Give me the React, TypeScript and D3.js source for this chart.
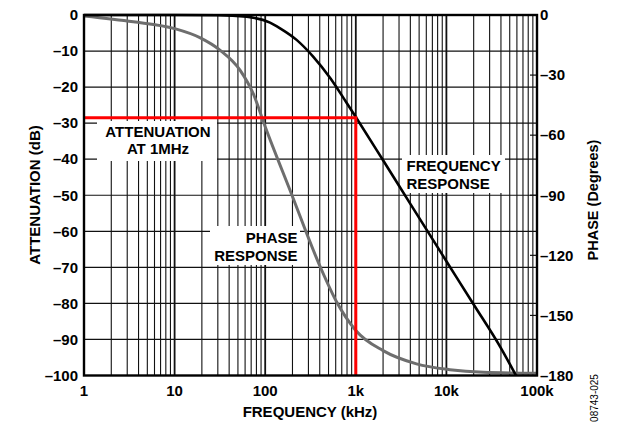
import { useEffect, useRef } from "react"
import * as d3 from "d3"

// frequency axis (kHz)
const freqTicks = [1, 10, 100, 1000, 10000, 100000]
const freqLabels = ["1", "10", "100", "1k", "10k", "100k"]
// left axis (dB) and right axis (degrees)
const attenTicks = [0, -10, -20, -30, -40, -50, -60, -70, -80, -90, -100]
const phaseTicks = [0, -30, -60, -90, -120, -150, -180]

// frequency response
const responseFreq = [1, 10, 30, 62.5, 113, 146, 222, 340, 519, 794, 1000, 2000, 4000, 10000, 20000, 40000, 58600]
const responseAtten = [0, 0, -0.05, -0.5, -2.1, -3.7, -6.9, -11.6, -17.4, -24.4, -28.3, -40.3, -52.4, -68.3, -80.3, -92.4, -100]

// phase response
const phaseFreq = [1, 3.5, 10, 19, 31.6, 52.7, 73.7, 100, 188, 403, 615, 1000, 2000, 4670, 10900, 25500, 100000]
const phaseDeg = [-0.5, -3.4, -6.8, -11.3, -17.5, -27.5, -39.2, -55.8, -87.5, -125.5, -143.3, -157.5, -167.6, -174.2, -177.1, -178.4, -178.9]

// attenuation marker at 1MHz
const markerFreq = 1000
const markerAtten = -28.5

const FONT = "'Liberation Sans', Arial, Helvetica, sans-serif"

const fmt = (d: number) => (d < 0 ? "\u2013" + Math.abs(d) : String(d))

export default function App() {
  const svgRef = useRef<SVGSVGElement>(null)

  useEffect(() => {
    if (!svgRef.current) return

    const svg = d3.select(svgRef.current)
    svg.selectAll("*").remove()

    const width = 626
    const height = 429
    const left = 84
    const right = 537
    const top = 15
    const bottom = 375.5

    const x = d3.scaleLog().domain([1, 100000]).range([left, right])
    const y = d3.scaleLinear().domain([-100, 0]).range([bottom, top])
    const yp = d3.scaleLinear().domain([-180, 0]).range([bottom, top])

    svg.attr("width", width).attr("height", height).attr("viewBox", [0, 0, width, height])
    svg.append("rect").attr("width", width).attr("height", height).attr("fill", "#fff")

    // grid: vertical log lines
    const vLines: { f: number; decade: boolean }[] = []
    for (let i = 0; i < freqTicks.length - 1; i++) {
      for (let m = 1; m <= 9; m++) vLines.push({ f: freqTicks[i] * m, decade: m === 1 })
    }
    const grid = svg.append("g")
    grid
      .selectAll(".v")
      .data(vLines.filter((d) => d.f > 1))
      .enter()
      .append("line")
      .attr("x1", (d) => x(d.f))
      .attr("x2", (d) => x(d.f))
      .attr("y1", top)
      .attr("y2", bottom)
      .attr("stroke", "#111")
      .attr("stroke-width", (d) => (d.decade ? 1.8 : 1.1))

    grid
      .selectAll(".h")
      .data(attenTicks)
      .enter()
      .append("line")
      .attr("x1", left)
      .attr("x2", right)
      .attr("y1", (d) => y(d))
      .attr("y2", (d) => y(d))
      .attr("stroke", "#111")
      .attr("stroke-width", 1.2)

    // phase ticks on the right edge
    grid
      .selectAll(".pt")
      .data(phaseTicks)
      .enter()
      .append("line")
      .attr("x1", right - 7)
      .attr("x2", right)
      .attr("y1", (d) => yp(d))
      .attr("y2", (d) => yp(d))
      .attr("stroke", "#111")
      .attr("stroke-width", 1.2)

    // white label boxes over the grid
    const boxes = [
      { x: 97, y: 121, w: 120, h: 40 },
      { x: 210, y: 226, w: 90, h: 39 },
      { x: 402, y: 155, w: 103, h: 38 },
    ]
    svg
      .append("g")
      .selectAll("rect")
      .data(boxes)
      .enter()
      .append("rect")
      .attr("x", (d) => d.x)
      .attr("y", (d) => d.y)
      .attr("width", (d) => d.w)
      .attr("height", (d) => d.h)
      .attr("fill", "#fff")

    const txt = svg.append("g").attr("font-family", FONT).attr("font-weight", "bold").attr("font-size", "15px").attr("fill", "#000")

    txt.append("text").attr("x", 158).attr("y", 137).attr("text-anchor", "middle").text("ATTENUATION")
    txt.append("text").attr("x", 158).attr("y", 153.5).attr("text-anchor", "middle").text("AT 1MHz")
    txt.append("text").attr("x", 297.5).attr("y", 243).attr("text-anchor", "end").text("PHASE")
    txt.append("text").attr("x", 297.5).attr("y", 261).attr("text-anchor", "end").text("RESPONSE")
    txt.append("text").attr("x", 406.5).attr("y", 171).text("FREQUENCY")
    txt.append("text").attr("x", 406.5).attr("y", 189).text("RESPONSE")

    // curves
    const respLine = d3
      .line<number>()
      .x((_, i) => x(responseFreq[i]))
      .y((d) => y(d))
      .curve(d3.curveMonotoneX)
    const phaseLine = d3
      .line<number>()
      .x((_, i) => x(phaseFreq[i]))
      .y((d) => yp(d))
      .curve(d3.curveMonotoneX)

    svg
      .append("path")
      .attr("d", phaseLine(phaseDeg))
      .attr("fill", "none")
      .attr("stroke", "#6e6e6e")
      .attr("stroke-width", 3)

    svg
      .append("path")
      .attr("d", respLine(responseAtten))
      .attr("fill", "none")
      .attr("stroke", "#000")
      .attr("stroke-width", 2.6)

    // red marker
    svg
      .append("path")
      .attr("d", `M${left},${y(markerAtten)}H${x(markerFreq)}V${bottom}`)
      .attr("fill", "none")
      .attr("stroke", "#ff0000")
      .attr("stroke-width", 3)

    // frame
    svg
      .append("rect")
      .attr("x", left)
      .attr("y", top)
      .attr("width", right - left)
      .attr("height", bottom - top)
      .attr("fill", "none")
      .attr("stroke", "#000")
      .attr("stroke-width", 2.4)

    // tick labels
    txt
      .selectAll(".yl")
      .data(attenTicks)
      .enter()
      .append("text")
      .attr("x", 78)
      .attr("y", (d) => y(d))
      .attr("dy", "0.35em")
      .attr("text-anchor", "end")
      .text(fmt)

    txt
      .selectAll(".pl")
      .data(phaseTicks)
      .enter()
      .append("text")
      .attr("x", 540)
      .attr("y", (d) => yp(d))
      .attr("dy", "0.35em")
      .text(fmt)

    txt
      .selectAll(".xl")
      .data(freqTicks)
      .enter()
      .append("text")
      .attr("x", (d) => x(d))
      .attr("y", 396)
      .attr("text-anchor", "middle")
      .text((_, i) => freqLabels[i])

    // axis titles
    txt.append("text").attr("x", 310).attr("y", 417).attr("text-anchor", "middle").text("FREQUENCY (kHz)")
    txt
      .append("text")
      .attr("transform", "translate(40,195) rotate(-90)")
      .attr("text-anchor", "middle")
      .text("ATTENUATION (dB)")
    txt
      .append("text")
      .attr("transform", "translate(597.5,200) rotate(-90)")
      .attr("text-anchor", "middle")
      .attr("font-size", "14.5px")
      .text("PHASE (Degrees)")

    svg
      .append("text")
      .attr("transform", "translate(598,398) rotate(-90)")
      .attr("text-anchor", "middle")
      .attr("font-family", FONT)
      .attr("font-size", "10px")
      .attr("fill", "#000")
      .text("08743-025")
  }, [])

  return (
    <div style={{ position: "absolute", left: 0, top: 0 }}>
      <svg ref={svgRef} style={{ display: "block" }}></svg>
    </div>
  )
}
